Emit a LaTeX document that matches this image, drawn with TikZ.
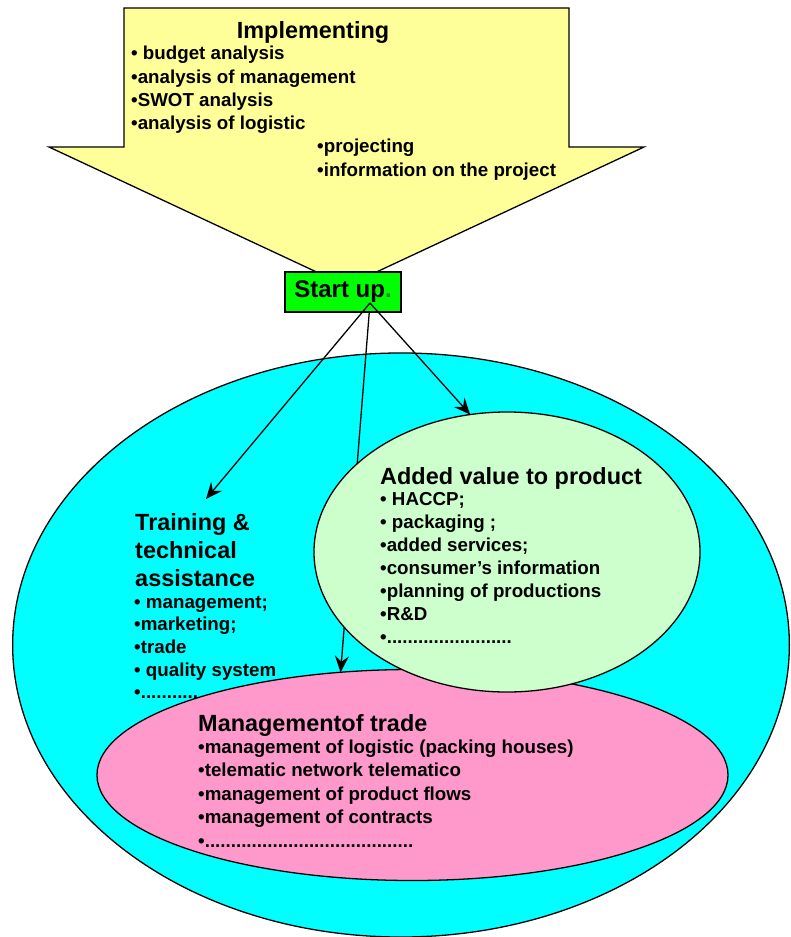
\documentclass[tikz,border=0pt]{standalone}
\usepackage{fontspec}
\setmainfont{Liberation Sans}
\usetikzlibrary{arrows.meta,shapes.geometric}
\definecolor{impyellow}{HTML}{FFFF99}
\definecolor{startgreen}{HTML}{00FF00}
\definecolor{outercyan}{HTML}{00FFFF}
\definecolor{addgreen}{HTML}{CCFFCC}
\definecolor{tradepink}{HTML}{FF99CC}
\pgfdeclarelayer{ground}
\pgfdeclarelayer{wires}
\pgfdeclarelayer{blobs}
\pgfsetlayers{ground,wires,blobs,main}
\newcommand{\dotline}[1]{•\foreach\k in {1,...,#1}{.}}
\tikzset{
  blob/.style={ellipse,draw=black,line width=1.1pt,inner sep=0pt,outer sep=0pt},
  link/.style={line width=1.1pt,-{Stealth[length=14pt,width=12pt,inset=5pt]}},
  head/.style={anchor=base west,font=\fontsize{20}{24}\selectfont\bfseries,inner sep=0pt},
  item/.style={anchor=base west,font=\fontsize{16}{20}\selectfont\bfseries,inner sep=0pt},
}

\begin{document}
\begin{tikzpicture}[x=0.03cm,y=-0.03cm]
\useasboundingbox (0,0) rectangle (790,937);
\begin{pgfonlayer}{ground}
\node[blob,fill=outercyan,minimum width=23.3cm,minimum height=17.52cm] (outer) at (401,645) {};
\end{pgfonlayer}
\begin{pgfonlayer}{blobs}
\node[blob,fill=tradepink,minimum width=18.93cm,minimum height=6.33cm] (trade) at (412.5,775) {};
\node[blob,fill=addgreen,minimum width=11.58cm,minimum height=8.4cm] (added) at (507,552) {};
\end{pgfonlayer}
\draw[fill=impyellow,line width=1.1pt] (124,8) -- (569,8) -- (569,147) -- (644,147) -- (346.5,286) -- (49,147) -- (124,147) -- cycle;
\node[draw,line width=1.1pt,fill=startgreen,minimum width=3.48cm,minimum height=1.2cm,inner sep=0pt,font=\fontsize{20.5}{24}\selectfont\bfseries] (start) at (343,292) {Start up\textcolor{green!40!black!80}{.}};
\coordinate (hub) at (370,303);
\coordinate (traintip) at (206,499);
\draw[link] (hub) -- (traintip);
\draw[link] (hub) -- (added.105);
\begin{pgfonlayer}{wires}
\draw[link] (hub) -- (trade.125);
\end{pgfonlayer}
\node[head,anchor=base] (impl) at (313,39) {Implementing};
\foreach \t [count=\i] in {• budget analysis,•analysis of management,•SWOT analysis,•analysis of logistic}
  \node[item] (impl\i) at (131,60+23.2*\i-23.2) {\t};
\foreach \t [count=\i] in {•projecting,•information on the project}
  \node[item] (proj\i) at (317,153+23.2*\i-23.2) {\t};
\foreach \t [count=\i] in {Training \&,technical,assistance}
  \node[head] (train\i) at (135,530+28*\i-28) {\t};
\foreach \t [count=\i] in {• management;,•marketing;,•trade,• quality system,\dotline{11}}
  \node[item] (trainitem\i) at (134,608+22.7*\i-22.7) {\t};
\node[head] (addhead) at (380,484) {Added value to product};
\foreach \t [count=\i] in {• HACCP;,• packaging ;,•added services;,•consumer’s information,•planning of productions,•R\&D,\dotline{24}}
  \node[item] (additem\i) at (380,505+23*\i-23) {\t};
\node[head] (tradehead) at (198,731) {Managementof trade};
\foreach \t [count=\i] in {•management of logistic (packing houses),•telematic network telematico,•management of product flows,•management of contracts,\dotline{40}}
  \node[item] (tradeitem\i) at (198,753+23.5*\i-23.5) {\t};
\end{tikzpicture}
\end{document}
